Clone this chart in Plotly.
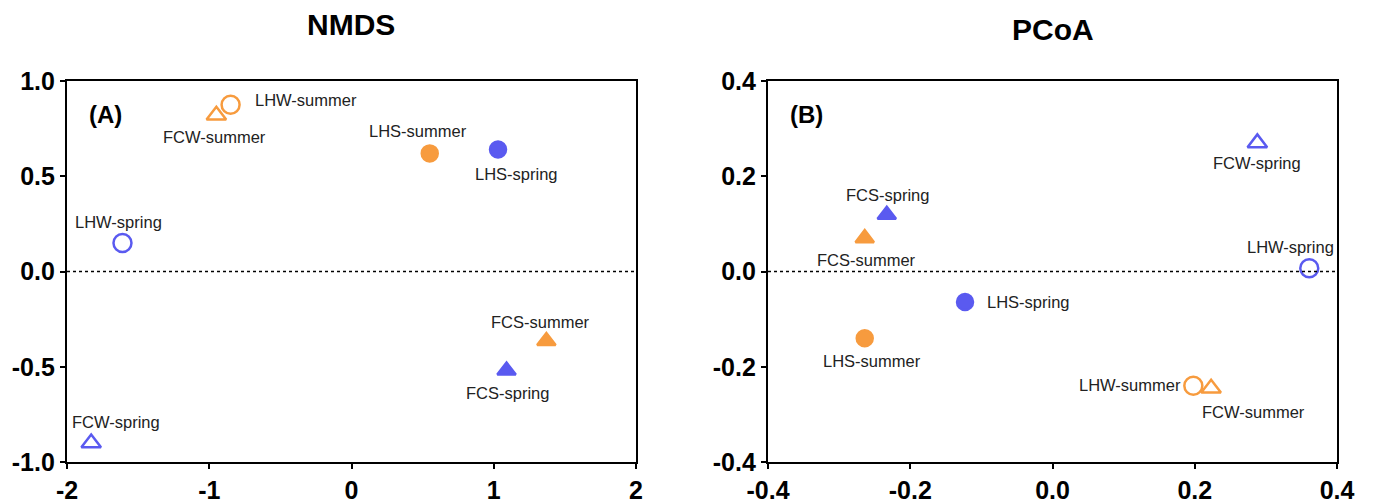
import plotly.graph_objects as go

# ---------- data ----------
nmds_names = ["LHW-summer", "FCW-summer", "LHS-summer", "LHS-spring",
              "LHW-spring", "FCS-summer", "FCS-spring", "FCW-spring"]
nmds_x = [-0.85, -0.95, 0.55, 1.03, -1.61, 1.37, 1.09, -1.83]
nmds_y = [0.875, 0.82, 0.62, 0.64, 0.15, -0.365, -0.52, -0.90]

pcoa_names = ["FCW-spring", "FCS-spring", "LHW-spring", "FCS-summer",
              "LHS-spring", "LHS-summer", "LHW-summer", "FCW-summer"]
pcoa_x = [0.288, -0.233, 0.361, -0.264, -0.123, -0.264, 0.198, 0.223]
pcoa_y = [0.27, 0.119, 0.007, 0.07, -0.064, -0.14, -0.24, -0.245]

nmds_xticks = [-2, -1, 0, 1, 2]
nmds_xtext = ["-2", "-1", "0", "1", "2"]
nmds_yticks = [-1.0, -0.5, 0.0, 0.5, 1.0]
nmds_ytext = ["-1.0", "-0.5", "0.0", "0.5", "1.0"]
pcoa_ticks = [-0.4, -0.2, 0.0, 0.2, 0.4]
pcoa_text = ["-0.4", "-0.2", "0.0", "0.2", "0.4"]

# label offsets (pixels) : (xshift, yshift, xanchor)
nmds_lab = {
    "LHW-summer": (22, 5, "left"),
    "FCW-summer": (-2, -22, "center"),
    "LHS-summer": (-12, 22, "center"),
    "LHS-spring": (18, -24, "center"),
    "LHW-spring": (-4, 21, "center"),
    "FCS-summer": (-6, 19, "center"),
    "FCS-spring": (1, -22, "center"),
    "FCW-spring": (25, 21, "center"),
}
pcoa_lab = {
    "FCW-spring": (0, -20, "center"),
    "FCS-spring": (1, 20, "center"),
    "LHW-spring": (-19, 21, "center"),
    "FCS-summer": (2, -22, "center"),
    "LHS-spring": (20, 0, "left"),
    "LHS-summer": (7, -23, "center"),
    "LHW-summer": (-10, 1, "right"),
    "FCW-summer": (42, -24, "center"),
}

BLUE = "#5A5AF0"
ORANGE = "#F79B3E"
FONT = "Liberation Sans, Arial, Helvetica, sans-serif"

W, H = 1374, 499
OFF = 8  # page body margin


def style(name):
    color = BLUE if name.endswith("spring") else ORANGE
    site = name.split("-")[0]
    sym = {"LHW": "circle-open", "FCW": "triangle-up-open",
           "LHS": "circle", "FCS": "triangle-up"}[site]
    size = {"LHW": 18, "FCW": 17, "LHS": 16, "FCS": 16}[site]
    return color, sym, size


fig = go.Figure()
annotations = []

for names, xs, ys, xa, ya, labs in [
    (nmds_names, nmds_x, nmds_y, "x", "y", nmds_lab),
    (pcoa_names, pcoa_x, pcoa_y, "x2", "y2", pcoa_lab),
]:
    for n, xv, yv in zip(names, xs, ys):
        c, s, sz = style(n)
        fig.add_trace(go.Scatter(
            x=[xv], y=[yv], mode="markers", xaxis=xa, yaxis=ya,
            marker=dict(symbol=s, size=sz, color=c,
                        line=dict(color=c, width=2.5)),
            showlegend=False, hoverinfo="text", text=[n]))
        dx, dy, anc = labs[n]
        annotations.append(dict(
            x=xv, y=yv, xref=xa, yref=ya, text=n, showarrow=False,
            xshift=dx, yshift=dy, xanchor=anc, yanchor="middle",
            font=dict(family=FONT, size=16.5, color="#222222")))

# zero dotted lines
for xa, ya in [("x", "y"), ("x2", "y2")]:
    fig.add_shape(type="line", xref=f"{xa} domain", yref=ya,
                  x0=0, x1=1, y0=0, y1=0,
                  line=dict(color="black", width=1.5, dash="dot"))

# panel letters and titles
for xr, yr, letter in [("x domain", "y domain", "(A)"),
                       ("x2 domain", "y2 domain", "(B)")]:
    annotations.append(dict(x=0.067, y=0.913, xref=xr, yref=yr,
                            text=f"<b>{letter}</b>", showarrow=False,
                            xanchor="center", yanchor="middle",
                            font=dict(family=FONT, size=24, color="black")))
annotations.append(dict(x=0.5, y=1.147, xref="x domain", yref="y domain",
                        text="<b>NMDS</b>", showarrow=False,
                        xanchor="center", yanchor="middle",
                        font=dict(family=FONT, size=30, color="black")))
annotations.append(dict(x=0.5, y=1.134, xref="x2 domain", yref="y2 domain",
                        text="<b>PCoA</b>", showarrow=False,
                        xanchor="center", yanchor="middle",
                        font=dict(family=FONT, size=30, color="black")))

axis_common = dict(showgrid=False, zeroline=False, showline=True,
                   linecolor="black", linewidth=2.2, mirror=True,
                   ticks="outside", ticklen=5, tickwidth=2,
                   tickcolor="black", automargin=False,
                   tickfont=dict(family=FONT, size=25, color="black",
                                 weight="bold"))

top, bot = 81 - OFF, 462 - OFF
ydom = [(H - bot) / H, (H - top) / H]
fig.update_layout(
    width=W, height=H,
    margin=dict(l=0, r=0, t=0, b=0, autoexpand=False),
    plot_bgcolor="white", paper_bgcolor="white",
    xaxis=dict(domain=[(67 - OFF) / W, (636 - OFF) / W], range=[-2, 2],
               tickvals=nmds_xticks, ticktext=nmds_xtext, anchor="y",
               **axis_common),
    yaxis=dict(domain=ydom, range=[-1, 1], tickvals=nmds_yticks,
               ticktext=nmds_ytext, anchor="x", **axis_common),
    xaxis2=dict(domain=[(768 - OFF) / W, (1337 - OFF) / W],
                range=[-0.4, 0.4], tickvals=pcoa_ticks, ticktext=pcoa_text,
                anchor="y2", **axis_common),
    yaxis2=dict(domain=ydom, range=[-0.4, 0.4], tickvals=pcoa_ticks,
                ticktext=pcoa_text, anchor="x2", **axis_common),
    annotations=annotations,
)

fig.write_html("out.html")
